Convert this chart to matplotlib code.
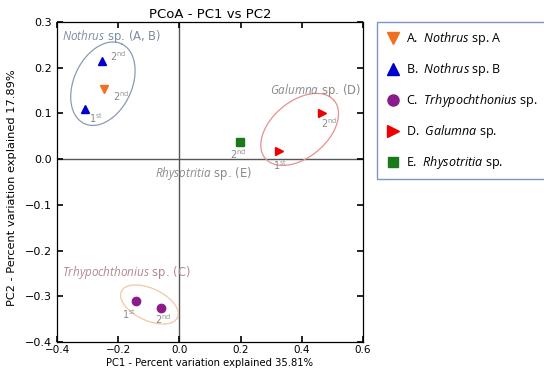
import numpy as np
import matplotlib
matplotlib.use("Agg")
import matplotlib.pyplot as plt
from matplotlib.lines import Line2D

plt.rcParams["mathtext.fontset"] = "custom"
plt.rcParams["mathtext.rm"] = "Open Sans"
plt.rcParams["mathtext.it"] = "Open Sans:italic"

# ---- data ----
species = ["A", "B", "C", "D", "E"]
nothrus_a_x = [-0.245]
nothrus_a_y = [0.153]
nothrus_b_x = [-0.253, -0.308]
nothrus_b_y = [0.214, 0.109]
trhypo_x = [-0.142, -0.060]
trhypo_y = [-0.311, -0.326]
galumna_x = [0.325, 0.466]
galumna_y = [0.0175, 0.100]
rhyso_x = [0.198]
rhyso_y = [0.037]

legend_labels = [r"A.  $\it{Nothrus}$ sp. A", r"B.  $\it{Nothrus}$ sp. B",
                 r"C.  $\it{Trhypochthonius}$ sp.", r"D.  $\it{Galumna}$ sp.",
                 r"E.  $\it{Rhysotritia}$ sp."]
xticks = [-0.4, -0.2, 0.0, 0.2, 0.4, 0.6]
yticks = [0.3, 0.2, 0.1, 0.0, -0.1, -0.2, -0.3, -0.4]

W, H = 544, 374
fig = plt.figure(figsize=(W/100, H/100), dpi=100)
ax = fig.add_axes([57/W, 1-342/H, (363-57)/W, (342-22)/H])
ax.set_xlim(-0.4, 0.6)
ax.set_ylim(-0.4, 0.3)

# pixel-to-data scale
sx = 1.0 / (363-57)
sy = 0.7 / (342-22)

ax.axhline(0, color="#555555", lw=1.0, zorder=1)
ax.axvline(0, color="#555555", lw=1.0, zorder=1)

ms = 6
ax.plot(nothrus_a_x, nothrus_a_y, "v", color="#f07020", ms=ms, ls="none", zorder=3)
ax.plot(nothrus_b_x, nothrus_b_y, "^", color="#0000cc", ms=ms, ls="none", zorder=3)
ax.plot(trhypo_x, trhypo_y, "o", color="#8b1a8b", ms=ms, ls="none", zorder=3)
ax.plot(galumna_x, galumna_y, ">", color="#ee0000", ms=ms, ls="none", zorder=3)
ax.plot(rhyso_x, rhyso_y, "s", color="#1a7a1a", ms=ms-0.5, ls="none", zorder=3)

def ellipse(cx, cy, a, b, ang, color):
    t = np.linspace(0, 2*np.pi, 200)
    th = np.deg2rad(ang)
    px = a*np.cos(t)*np.cos(th) - b*np.sin(t)*np.sin(th)
    py = a*np.cos(t)*np.sin(th) + b*np.sin(t)*np.cos(th)
    ax.plot(cx + px*sx, cy + py*sy, color=color, lw=0.9, zorder=2)

ellipse(-0.25, 0.165, 44, 29, 65, "#8c9bb0")
ellipse(0.393, 0.065, 45, 28, 40, "#e89090")
ellipse(-0.098, -0.318, 31, 16, -25, "#f0c8a8")

gc = "#8a8a8a"
fs = 7
def lab(x, y, s):
    ax.text(x, y, s, color=gc, fontsize=fs, ha="center", va="center", zorder=4)

lab(-0.2, 0.226, r"2$^{\mathrm{nd}}$")
lab(-0.192, 0.137, r"2$^{\mathrm{nd}}$")
lab(-0.272, 0.09, r"1$^{\mathrm{st}}$")
lab(-0.166, -0.339, r"1$^{\mathrm{st}}$")
lab(-0.055, -0.351, r"2$^{\mathrm{nd}}$")
lab(0.192, 0.011, r"2$^{\mathrm{nd}}$")
lab(0.49, 0.079, r"2$^{\mathrm{nd}}$")
lab(0.33, -0.012, r"1$^{\mathrm{st}}$")

lfs = 8.4
ax.text(-0.385, 0.268, r"$\it{Nothrus}$ sp. (A, B)", color="#7d8ca3", fontsize=lfs, ha="left", va="center")
ax.text(0.593, 0.151, r"$\it{Galumna}$ sp. (D)", color="#8a8a8a", fontsize=lfs, ha="right", va="center")
ax.text(-0.08, -0.031, r"$\it{Rhysotritia}$ sp. (E)", color="#8a8a8a", fontsize=lfs, ha="left", va="center")
ax.text(-0.383, -0.248, r"$\it{Trhypochthonius}$ sp. (C)", color="#b08890", fontsize=lfs, ha="left", va="center")

ax.set_xticks(xticks)
ax.set_yticks(yticks)
ax.set_xticklabels([f"{v:.1f}".replace("-", "\u2212") for v in xticks])
ax.set_yticklabels([f"{v:.1f}".replace("-", "\u2212") for v in yticks])
ax.tick_params(direction="in", top=True, right=True, length=4, labelsize=7.5, width=1.2)
ax.tick_params(axis="x", pad=2.5)
ax.tick_params(axis="y", labelsize=8)
for s in ax.spines.values():
    s.set_linewidth(0.9)
ax.set_title("PCoA - PC1 vs PC2", fontsize=9.5, pad=3)
ax.set_xlabel("PC1 - Percent variation explained 35.81%", fontsize=7.2, labelpad=2)
ax.set_ylabel("PC2 - Percent variation explained 17.89%", fontsize=8.2, labelpad=2)
ax.yaxis.set_label_coords(-0.13, (342-187.5)/320)

# legend
handles = [
    Line2D([], [], marker="v", color="#f07020", ls="none", ms=8),
    Line2D([], [], marker="^", color="#0000cc", ls="none", ms=8),
    Line2D([], [], marker="o", color="#8b1a8b", ls="none", ms=8),
    Line2D([], [], marker=">", color="#ee0000", ls="none", ms=8),
    Line2D([], [], marker="s", color="#1a7a1a", ls="none", ms=7),
]
leg = fig.legend(handles, legend_labels, loc="upper left",
                 bbox_to_anchor=(377/W, 1-22/H), bbox_transform=fig.transFigure,
                 frameon=True, fancybox=False, labelspacing=1.12, borderaxespad=0,
                 handletextpad=0.5, handlelength=1.2, borderpad=0.65,
                 prop={"family": "Open Sans", "size": 9})
leg.get_frame().set_edgecolor("#5a7cbf")
leg.get_frame().set_linewidth(1.0)

fig.savefig("out.png", dpi=100)
